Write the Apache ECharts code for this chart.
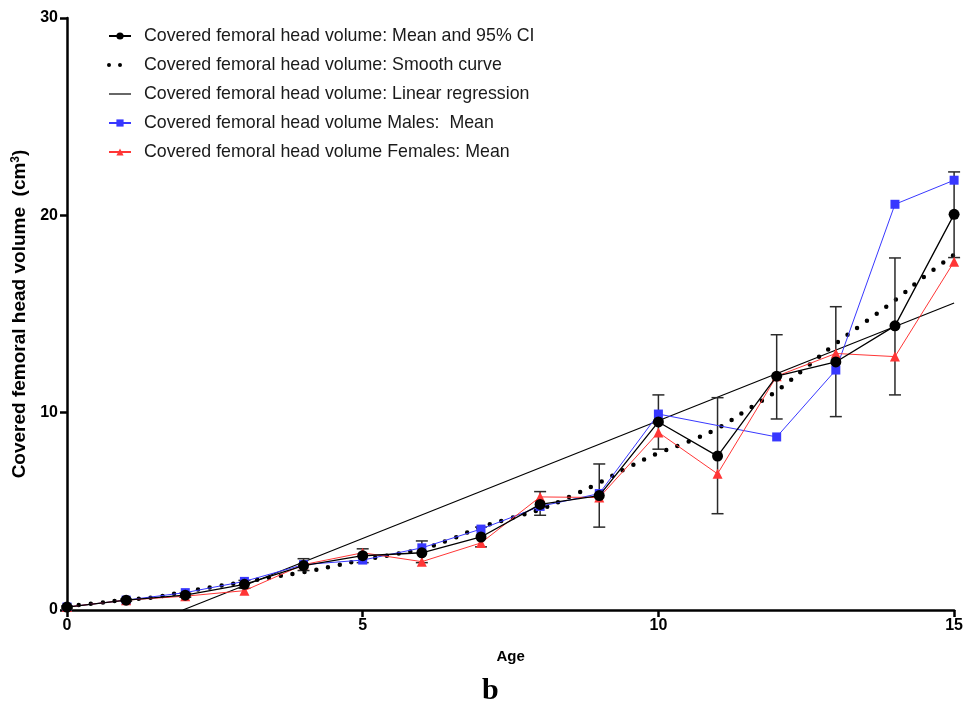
<!DOCTYPE html>
<html>
<head>
<meta charset="utf-8">
<script src="https://cdn.jsdelivr.net/npm/echarts@6/dist/echarts.min.js"></script>
<style>html,body{margin:0;padding:0;background:#fff}#c{width:966px;height:705px}</style>
</head>
<body>
<div id="c"></div>
<script>
// ---- data ----
const ages = [0,1,2,3,4,5,6,7,8,9,10,11,12,13,14,15];
const meanVals = [0.15,0.5,0.75,1.3,2.25,2.75,2.9,3.7,5.35,5.8,9.53,7.8,11.85,12.57,14.4,20.05];
const ciLow  = [0.1,0.45,0.65,1.1,2.0,2.4,2.4,3.2,4.8,4.2,8.15,4.88,9.68,9.8,10.9,17.86];
const ciHigh = [0.2,0.55,0.85,1.5,2.6,3.1,3.5,4.2,6.0,7.4,10.9,10.76,13.95,15.37,17.84,22.2];
const malesVals = [0.15,0.5,0.88,1.45,2.3,2.53,3.15,4.1,5.25,5.9,9.93,null,8.77,12.16,20.56,21.78];
const femalesVals = [0.15,0.5,0.7,0.98,2.3,2.9,2.45,3.4,5.73,5.7,9.0,6.9,11.85,13.0,12.84,17.65];
const smoothAges = [0,0.5,1,1.5,2,2.5,3,3.5,4,4.5,5,5.5,6,6.5,7,7.5,8,8.5,9,9.5,10,10.5,11,11.5,12,12.5,13,13.5,14,14.5,15];
const smoothVals = [0.2,0.35,0.52,0.66,0.93,1.18,1.42,1.68,1.92,2.22,2.53,2.8,3.1,3.6,4.2,4.65,5.1,5.74,6.45,7.25,7.95,8.53,9.2,10.15,11.1,12.3,13.5,14.6,15.7,16.9,18.0];
const regAges = [1.96,15];
const regVals = [0,15.56];
const names = [
  'Covered femoral head volume: Mean and 95% CI',
  'Covered femoral head volume: Smooth curve',
  'Covered femoral head volume: Linear regression',
  'Covered femoral head volume Males:  Mean',
  'Covered femoral head volume Females: Mean'
];

const pairs = (xs, ys) => xs.map((x,i)=>[x, ys[i]]);
const FONT = "'Liberation Sans', Arial, sans-serif";

const chart = echarts.init(document.getElementById('c'), null, {renderer:'canvas'});
chart.setOption({
  animation:false,
  backgroundColor:'#fff',
  grid:{left:67,right:7,top:18,bottom:95,containLabel:false},
  legend:{
    orient:'vertical', left:102, top:22, itemGap:11, itemWidth:22, itemHeight:9,
    textStyle:{fontFamily:FONT,fontSize:17.8,color:'#1a1a1a',padding:[0,0,0,8]},
    data:[
      {name:names[0]},
      {name:names[1], itemStyle:{opacity:0}, lineStyle:{width:4,type:[0,11],cap:'round'}},
      {name:names[2], itemStyle:{opacity:0}, lineStyle:{width:1.2}},
      {name:names[3]},
      {name:names[4]}
    ]
  },
  xAxis:{
    type:'value', min:0, max:15, interval:5,
    name:'Age', nameLocation:'middle', nameGap:39,
    nameTextStyle:{fontFamily:FONT,fontSize:15,fontWeight:'bold',color:'#000'},
    axisLine:{onZero:false,lineStyle:{color:'#000',width:2.5}},
    axisTick:{show:true,length:7,lineStyle:{color:'#000',width:2.5}},
    axisLabel:{fontFamily:FONT,fontSize:16,fontWeight:'bold',color:'#000',margin:8},
    splitLine:{show:false}
  },
  yAxis:{
    type:'value', min:0, max:30, interval:10,
    name:'{a|Covered femoral head volume  (cm}{s|3}{a|)}', nameLocation:'middle', nameGap:36,
    nameTextStyle:{fontFamily:FONT,fontSize:19,fontWeight:'bold',color:'#000',
      rich:{a:{fontFamily:FONT,fontSize:19,fontWeight:'bold',color:'#000'},
            s:{fontFamily:FONT,fontSize:12,fontWeight:'bold',color:'#000',verticalAlign:'top',padding:[0,0,9,0]}}},
    axisLine:{onZero:false,lineStyle:{color:'#000',width:2.5}},
    axisTick:{show:true,length:7,lineStyle:{color:'#000',width:2.5}},
    axisLabel:{fontFamily:FONT,fontSize:16,fontWeight:'bold',color:'#000',margin:9},
    splitLine:{show:false}
  },
  graphic:[{type:'text',left:482,top:676,style:{text:'b',font:"bold 30px 'Liberation Serif', 'Times New Roman', serif",fill:'#000'}}],
  series:[
    {
      name:'errorbars', type:'custom', z:3,
      data: ages.map((a,i)=>[a, ciLow[i], ciHigh[i]]),
      encode:{x:0,y:[1,2]},
      renderItem:function(params, api){
        const x=api.value(0), lo=api.value(1), hi=api.value(2);
        const p1=api.coord([x,lo]), p2=api.coord([x,hi]);
        const hw=6, st={stroke:'#2a2a2a',lineWidth:1.5};
        return {type:'group',children:[
          {type:'line',shape:{x1:p1[0],y1:p1[1],x2:p2[0],y2:p2[1]},style:st},
          {type:'line',shape:{x1:p1[0]-hw,y1:p1[1],x2:p1[0]+hw,y2:p1[1]},style:st},
          {type:'line',shape:{x1:p2[0]-hw,y1:p2[1],x2:p2[0]+hw,y2:p2[1]},style:st}
        ]};
      }
    },
    {
      name:names[0], type:'line', z:6, data:pairs(ages, meanVals),
      symbol:'circle', symbolSize:11, itemStyle:{color:'#000'},
      lineStyle:{color:'#000',width:1.3}
    },
    {
      name:names[1], type:'line', z:2, data:pairs(smoothAges, smoothVals), smooth:true,
      symbol:'none', itemStyle:{color:'#000'},
      lineStyle:{color:'#000',width:4.5,type:[0,12],cap:'round'}
    },
    {
      name:names[2], type:'line', z:2, data:pairs(regAges, regVals),
      symbol:'none', itemStyle:{color:'#000'},
      lineStyle:{color:'#000',width:1.2}
    },
    {
      name:names[3], type:'line', z:4, data:pairs(ages, malesVals), connectNulls:true,
      symbol:'rect', symbolSize:9, itemStyle:{color:'#3838ff'},
      lineStyle:{color:'#3838ff',width:1}
    },
    {
      name:names[4], type:'line', z:5, data:pairs(ages, femalesVals),
      symbol:'triangle', symbolSize:10, itemStyle:{color:'#ff3636'},
      lineStyle:{color:'#ff3636',width:1}
    }
  ]
});
</script>
</body>
</html>
